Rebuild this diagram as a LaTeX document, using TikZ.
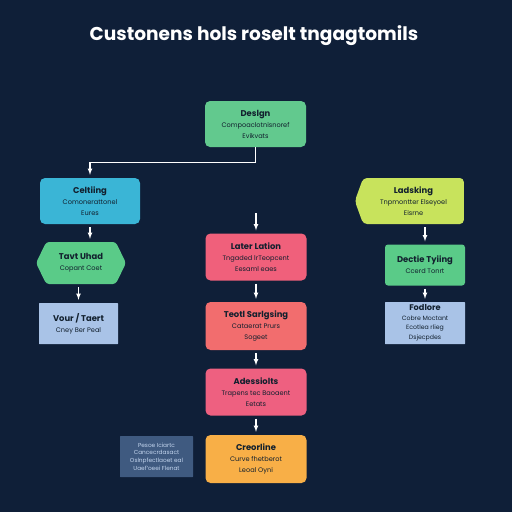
\documentclass[tikz,border=0pt]{standalone}
\usepackage{fontspec}
\setmainfont{Poppins}
\usetikzlibrary{shapes.symbols}

\definecolor{navy}{HTML}{0F1F38}
\definecolor{txtdark}{HTML}{12202E}
\definecolor{greenA}{HTML}{62C98E}
\definecolor{cyanA}{HTML}{3AB5D6}
\definecolor{greenB}{HTML}{5ACB88}
\definecolor{blueA}{HTML}{A9C3E7}
\definecolor{pinkA}{HTML}{F0607B}
\definecolor{redA}{HTML}{F26D6E}
\definecolor{pinkB}{HTML}{EE6080}
\definecolor{orangeA}{HTML}{F8AF47}
\definecolor{limeA}{HTML}{C8E35C}
\definecolor{slateA}{HTML}{3F5A80}

\newcommand{\subl}[1]{{\fontsize{6.6}{9.5}\selectfont\mdseries #1}}
\newcommand{\subt}[1]{{\fontsize{6.2}{8.2}\selectfont\mdseries #1}}

\tikzset{
  card/.style={rectangle, rounded corners=5pt, text=txtdark, align=center,
    inner sep=1pt, font=\fontsize{8.4}{11}\selectfont\bfseries},
  flat/.style={card, rounded corners=0.5pt},
  link/.style={-latex, white, line width=1.1pt, shorten <=3pt, shorten >=3pt},
}

\begin{document}
\begin{tikzpicture}[x=1pt,y=-1pt]
		\fill[navy] (0,0) rectangle (512,512);
		\useasboundingbox (0,0) rectangle (512,512);

		\node[text=white, font=\fontsize{18.6}{20}\selectfont\bfseries] (title) at (254,36) {Custonens hols roselt tngagtomils};

		% top
		\node[card, fill=greenA, minimum width=101pt, minimum height=46pt] (design) at (255.5,124) {Deslgn\\\subl{Compoaclotnisnoref}\\\subl{Evikvats}};

		% left column
		\node[card, fill=cyanA, minimum width=100pt, minimum height=46pt] (cadline) at (90,201) {Celtiing\\\subl{Comonerattonel}\\\subl{Eures}};
		\node[card, fill=greenB, shape=signal, signal to=west and east, signal pointer angle=128,
		      rounded corners=3pt, minimum width=90pt, minimum height=42pt] (tavt) at (81,263) {Tavt Uhad\\\subl{Copant Coet}};
		\node[flat, fill=blueA, minimum width=79pt, minimum height=41pt] (vour) at (78.5,323.5) {Vour / Taert\\\subl{Cney Ber Peal}};

		% middle column
		\coordinate (midtop) at (256,213);
		\node[card, fill=pinkA, minimum width=101pt, minimum height=47pt] (later) at (256,257) {Later Lation\\\subl{Tngaded lrTeopcent}\\\subl{Eesaml eaes}};
		\node[card, fill=redA, minimum width=101pt, minimum height=48pt] (teotl) at (256,326) {Teotl Sarlgsing\\\subl{Cataerat Prurs}\\\subl{Sogeet}};
		\node[card, fill=pinkB, minimum width=101pt, minimum height=47pt] (adess) at (256,392) {Adessiolts\\\subl{Trapens tec Baoaent}\\\subl{Eetats}};
		\node[card, fill=orangeA, minimum width=101pt, minimum height=48pt] (creor) at (256,459) {Creorline\\\subl{Curve fhetberot}\\\subl{Leoal Oyni}};

		% right column
		\node[card, fill=limeA, shape=signal, signal to=west, signal pointer angle=140,
		      rounded corners=4pt, minimum width=109pt, minimum height=46pt] (lads) at (413.5,201) {Ladsking\\\subl{Tnpmontter Elseyoel}\\\subl{Eisrne}};
		\node[card, fill=greenB, rounded corners=3pt, minimum width=80pt, minimum height=41pt] (dectie) at (425,265) {Dectie Tyiing\\\subl{Ccerd Tonrt}};
		\node[flat, fill=blueA, minimum width=80pt, minimum height=42pt, inner sep=0pt,
		      font=\fontsize{8.2}{9.5}\selectfont\bfseries] (fodlore) at (425,323) {Fodlore\\\subt{Cobre Moctant}\\\subt{Ecotlea rlieg}\\\subt{Dsjecpdes}};

		% note
		\node[flat, fill=slateA, text=blueA!70!white, minimum width=73pt, minimum height=41pt,
		      font=\fontsize{5.8}{7.6}\selectfont] (note) at (156.5,456.5) {Pesoe Iciartc\\Cancecrdasact\\Oslnpfectlaoet eal\\Uaef'oeei Flenat};

		\draw[link, shorten <=0pt] (design.south) -- ++(0,15) -| (cadline.north);
		\draw[link] (cadline.south) -- (cadline.south |- tavt.north);
		\draw[link] (tavt.south -| vour.north) -- (vour.north);
		\draw[link, shorten <=0pt] (midtop) -- (later.north);
		\draw[link] (later) -- (teotl);
		\draw[link] (teotl) -- (adess);
		\draw[link] (adess) -- (creor);
		\draw[link] (lads.south -| dectie.north) -- (dectie.north);
		\draw[link] (dectie) -- (fodlore);
	\end{tikzpicture}
\end{document}
